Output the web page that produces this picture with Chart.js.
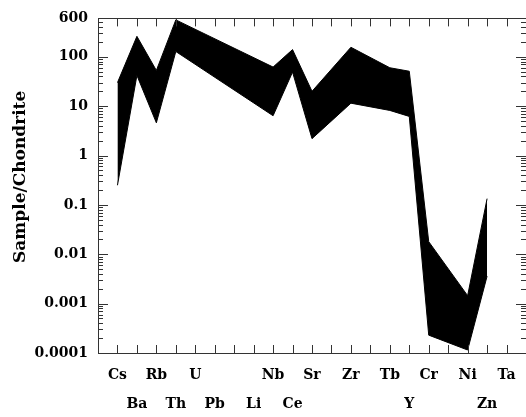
<!DOCTYPE html>
<html>
<head>
<meta charset="utf-8">
<script src="https://cdn.jsdelivr.net/npm/chart.js"></script>
<style>
  html, body { margin: 0; padding: 0; background: #fff; overflow: hidden; }
  #wrap { position: relative; width: 534px; height: 417px; }
</style>
</head>
<body>
<div id="wrap"><canvas id="spider"></canvas></div>
<script>
// element order along the x axis ('' = slot with no label)
var elements = ['Cs', 'Ba', 'Rb', 'Th', 'U', 'Pb', '', 'Li', 'Nb', 'Ce', 'Sr', '', 'Zr', '', 'Tb', 'Y', 'Cr', '', 'Ni', 'Zn', 'Ta'];
// upper and lower envelope of the sample/chondrite field (null = not analysed)
var upper = [30, 260, 53, 560, null, null, null, null, 62, 140, 20, null, 156, null, 60, 51, 0.018, null, 0.00145, 0.134, null];
var lower = [0.25, 42, 4.6, 128, null, null, null, null, 6.4, 49, 2.2, null, 11.5, null, 8.2, 6.2, 0.00023, null, 0.000115, 0.0036, null];
var yTicks = [0.0001, 0.001, 0.01, 0.1, 1, 10, 100, 600];

function toPoints(arr) {
    var pts = [];
    arr.forEach(function (v, i) {
        if (v !== null) pts.push({ x: i, y: v });
    });
    return pts;
}

// box round the plot with inward ticks on all four sides
var frameTicks = {
    id: 'frameTicks',
    afterDatasetsDraw: function (chart) {
        var ctx = chart.ctx, a = chart.chartArea;
        var x = chart.scales.x, y = chart.scales.y;
        ctx.save();
        ctx.strokeStyle = '#333';
        ctx.lineWidth = 1;
        ctx.beginPath();
        ctx.rect(Math.round(a.left) + 0.5, Math.round(a.top) + 0.5,
            Math.round(a.right - a.left), Math.round(a.bottom - a.top));
        for (var i = 0; i < elements.length; i++) {
            var px = Math.round(x.getPixelForValue(i)) + 0.5;
            ctx.moveTo(px, a.bottom); ctx.lineTo(px, a.bottom - 8);
            ctx.moveTo(px, a.top); ctx.lineTo(px, a.top + 8);
        }
        for (var e = -4; e <= 2; e++) {
            for (var m = 1; m <= 9; m++) {
                var v = m * Math.pow(10, e);
                if (v > y.max) break;
                var py = Math.round(y.getPixelForValue(v)) + 0.5;
                var len = m === 1 ? 10 : 5;
                ctx.moveTo(a.left, py); ctx.lineTo(a.left + len, py);
                ctx.moveTo(a.right, py); ctx.lineTo(a.right - len, py);
            }
        }
        ctx.stroke();
        ctx.restore();
    }
};

Chart.defaults.font.family = 'DejaVu Serif';
Chart.defaults.color = '#000';

var spider = new Chart(document.getElementById('spider'), {
    type: 'line',
    data: {
        datasets: [{
            label: 'lower',
            data: toPoints(lower),
            borderColor: '#000',
            borderWidth: 1,
            backgroundColor: '#000',
            pointRadius: 0,
            fill: false,
            tension: 0
        }, {
            label: 'upper',
            data: toPoints(upper),
            borderColor: '#000',
            borderWidth: 1,
            backgroundColor: '#000',
            pointRadius: 0,
            fill: '-1',
            tension: 0
        }]
    },
    options: {
        responsive: true,
        maintainAspectRatio: false,
        animation: false,
        layout: { padding: { top: 14, right: 2, bottom: 0, left: 0 } },
        plugins: {
            legend: { display: false },
            tooltip: { enabled: false }
        },
        scales: {
            x: {
                type: 'linear',
                min: -1,
                max: 21,
                grid: { display: false, drawTicks: false },
                border: { display: false },
                ticks: {
                    stepSize: 1,
                    autoSkip: false,
                    maxRotation: 0,
                    padding: 8,
                    font: { size: 14, weight: 'bold', lineHeight: '29px' },
                    callback: function (v) {
                        var i = Math.round(v);
                        if (i < 0 || i >= elements.length || !elements[i]) return '';
                        // labels alternate between two rows
                        return i % 2 === 0 ? [elements[i], ''] : ['', elements[i]];
                    }
                },
                afterFit: function (scale) { scale.height = 64; }
            },
            y: {
                type: 'logarithmic',
                min: 0.0001,
                max: 600,
                grid: { display: false, drawTicks: false },
                border: { display: false },
                ticks: {
                    padding: 10,
                    font: { size: 14, weight: 'bold' },
                    callback: function (v) { return String(v); }
                },
                afterBuildTicks: function (scale) {
                    scale.ticks = yTicks.map(function (v) { return { value: v }; });
                },
                afterFit: function (scale) { scale.width = 98; },
                title: {
                    display: true,
                    // leading spaces nudge the rotated title a little upward
                    text: '   Sample/Chondrite',
                    padding: { top: 10, bottom: 0 },
                    font: { size: 17, weight: 'bold' }
                }
            }
        }
    },
    plugins: [frameTicks]
});
</script>
</body>
</html>
